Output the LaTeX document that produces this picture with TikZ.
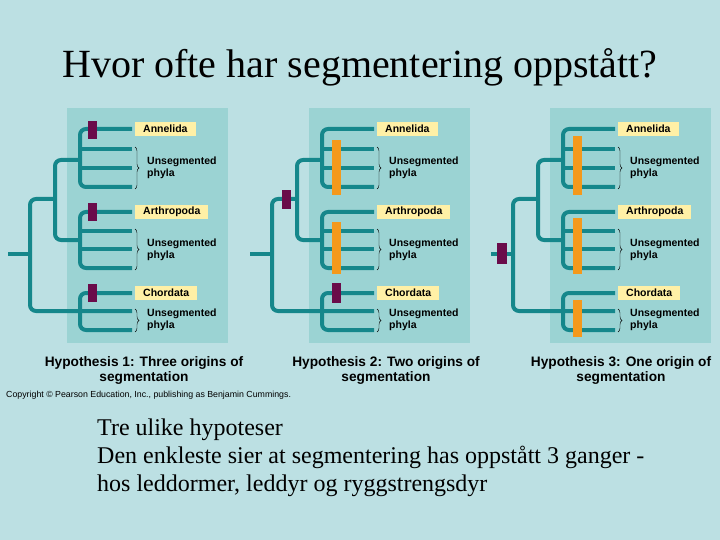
\documentclass[tikz,border=0pt]{standalone}
\usepackage{fontspec}
\setmainfont{Liberation Serif}
\setsansfont{Liberation Sans}
\usetikzlibrary{decorations.pathreplacing}

\definecolor{bgblue}{HTML}{BCE0E3}
\definecolor{panelteal}{HTML}{9BD3D3}
\definecolor{branch}{HTML}{15878B}
\definecolor{labelyellow}{HTML}{FFF0A6}
\definecolor{markpurple}{HTML}{6A0C4A}
\definecolor{markorange}{HTML}{F4991C}

\tikzset{
  limb/.style={draw=branch, line width=4pt, rounded corners=6pt},
  taxon/.style={anchor=west, fill=labelyellow, inner xsep=8pt, inner ysep=0pt,
    minimum height=14pt, font=\sffamily\bfseries\fontsize{10.5}{12}\selectfont},
  unseg/.style={anchor=west, align=left, inner sep=0pt,
    font=\sffamily\bfseries\fontsize{10.5}{12}\selectfont},
  phylabrace/.style={decorate, decoration={brace, amplitude=4pt}, thin},
  hypo/.style={align=center, font=\sffamily\bfseries\fontsize{13.7}{15}\selectfont},
  bodyline/.style={anchor=base west, inner sep=0pt, font=\fontsize{24}{28}\selectfont}
}

\begin{document}
\begin{tikzpicture}[x=1pt, y=-1pt]
\fill[bgblue] (0,0) rectangle (720,540);

\node[anchor=base, font=\fontsize{40}{44}\selectfont] (title) at (360,78) {Hvor ofte har segmentering oppstått?};

% the same tree, three times
\foreach \dx in {0,242,483}{
  \begin{scope}[xshift=\dx pt]
    \fill[panelteal] (67,108) rectangle (228,343);

    \coordinate (root) at (8,254);
    \coordinate (base) at (30,254);
    \coordinate (up) at (55,199);
    \coordinate (an) at (80,160);
    \coordinate (ar) at (80,240);
    \coordinate (ch) at (132,311);

    \draw[limb] (root) -- (base);
    \draw[limb] (up) -| (base) |- (ch);
    \draw[limb] (an) -| (up) |- (ar);

    % annelida and arthropoda groups
    \foreach \a/\b/\c/\d/\nm in {129/149/168/187/Annelida, 212/231/249/268/Arthropoda}{
      \draw[limb] (132,\a) -- (80,\a) -- (80,\d) -- (132,\d);
      \draw[limb] (80,\b) -- (132,\b);
      \draw[limb] (80,\c) -- (132,\c);
      \node[taxon] (lab\nm) at (135,\a) {\nm};
      \draw[phylabrace] (135,\b-2) -- (135,\d+2);
      \node[unseg] (un\nm) at (147,{(\b+\d)/2}) {Unsegmented\\phyla};
    }

    % chordata group
    \draw[limb] (132,293) -- (80,293) -- (80,330) -- (132,330);
    \node[taxon] (labChordata) at (135,293) {Chordata};
    \draw[phylabrace] (135,309) -- (135,332);
    \node[unseg] (unChordata) at (147,320) {Unsegmented\\phyla};
  \end{scope}
}

% hypothesis 1
\fill[markpurple] (88,121) rectangle (97,139);
\fill[markpurple] (88,203) rectangle (97,221);
\fill[markpurple] (88,284) rectangle (97,302);
\node[hypo] (hyp1) at (144,370) {Hypothesis 1: Three origins of\\segmentation};

% hypothesis 2
\fill[markpurple] (282,190) rectangle (291,209);
\fill[markorange] (332,140) rectangle (341,195);
\fill[markorange] (332,222) rectangle (341,274);
\fill[markpurple] (332,283) rectangle (341,303);
\node[hypo] (hyp2) at (386,370) {Hypothesis 2: Two origins of\\segmentation};

% hypothesis 3
\fill[markpurple] (497,243) rectangle (507,264);
\fill[markorange] (573,136) rectangle (582,195);
\fill[markorange] (573,218) rectangle (582,274);
\fill[markorange] (573,300) rectangle (582,337);
\node[hypo] (hyp3) at (621,370) {Hypothesis 3: One origin of\\segmentation};

\node[anchor=west, inner sep=0pt, font=\sffamily\fontsize{8.8}{10}\selectfont] (copy) at (6,395)
  {Copyright © Pearson Education, Inc., publishing as Benjamin Cummings.};

\node[bodyline] (body1) at (97,435) {Tre ulike hypoteser};
\node[bodyline] (body2) at (97,463) {Den enkleste sier at segmentering has oppstått 3 ganger -};
\node[bodyline] (body3) at (97,491) {hos leddormer, leddyr og ryggstrengsdyr};
\end{tikzpicture}
\end{document}
